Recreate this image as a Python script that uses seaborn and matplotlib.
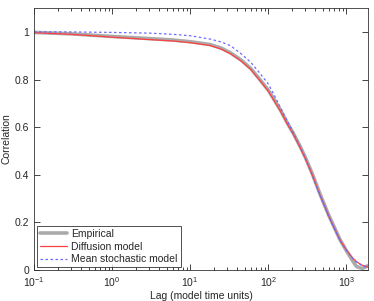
import numpy as np
import pandas as pd
import seaborn as sns
import matplotlib
matplotlib.use("Agg")
import matplotlib.pyplot as plt

# lag values (model time units)
lags = [0.1, 0.3, 1, 3, 6, 10, 18, 25, 33, 45, 60, 80, 100, 118, 145, 174,
        210, 259, 300, 361, 460, 600, 830, 1000, 1200, 1350, 1600, 1900]

empirical = [0.998, 0.992, 0.981, 0.972, 0.966, 0.959, 0.947, 0.932, 0.912,
             0.882, 0.846, 0.796, 0.756, 0.718, 0.669, 0.620, 0.574, 0.516,
             0.472, 0.410, 0.320, 0.228, 0.128, 0.082, 0.040, 0.015, 0.006,
             0.018]
diffusion = [0.997, 0.990, 0.978, 0.968, 0.962, 0.955, 0.943, 0.928, 0.908,
             0.878, 0.842, 0.792, 0.752, 0.714, 0.665, 0.616, 0.570, 0.512,
             0.468, 0.406, 0.316, 0.225, 0.126, 0.085, 0.052, 0.035, 0.020,
             0.012]
stochastic = [1.000, 1.000, 0.998, 0.995, 0.990, 0.984, 0.970, 0.958, 0.942,
              0.908, 0.872, 0.822, 0.782, 0.738, 0.680, 0.628, 0.578, 0.515,
              0.468, 0.404, 0.314, 0.222, 0.124, 0.083, 0.050, 0.034, 0.018,
              0.010]

series = ["Empirical", "Diffusion model", "Mean stochastic model"]

df = pd.concat([
    pd.DataFrame({"lag": lags, "corr": empirical, "series": series[0]}),
    pd.DataFrame({"lag": lags, "corr": diffusion, "series": series[1]}),
    pd.DataFrame({"lag": lags, "corr": stochastic, "series": series[2]}),
])

sns.set_style("ticks")
plt.rcParams["font.family"] = ["Liberation Sans", "DejaVu Sans"]
plt.rcParams["font.size"] = 7.5
plt.rcParams["xtick.direction"] = "in"
plt.rcParams["ytick.direction"] = "in"

fig = plt.figure(figsize=(3.74, 3.01), dpi=100)
ax = fig.add_axes([0.091, 0.103, 0.893, 0.870])

palette = {series[0]: "#aaaaaa", series[1]: "#ff4040", series[2]: "#6a6aff"}
sns.lineplot(data=df, x="lag", y="corr", hue="series", style="series",
             palette=palette, dashes={series[0]: "", series[1]: "", series[2]: (2, 2)},
             size="series", sizes={series[0]: 2.6, series[1]: 0.9, series[2]: 0.9},
             ax=ax)

ax.set_xscale("log")
ax.set_xlim(0.1, 1900)
ax.set_ylim(0, 1.1)
ax.set_yticks([0, 0.2, 0.4, 0.6, 0.8, 1])
ax.set_yticklabels(["0", "0.2", "0.4", "0.6", "0.8", "1"])
ax.tick_params(which="both", top=True, right=True, labelsize=7.5, width=0.6)
ax.tick_params(which="major", length=4)
ax.tick_params(which="minor", length=2)
for s in ax.spines.values():
    s.set_linewidth(0.6)
    s.set_color("#333333")

ax.set_xlabel("Lag (model time units)", fontsize=7.5, labelpad=2)
ax.set_ylabel("Correlation", fontsize=7.5, labelpad=2)

leg = ax.legend(loc="lower left", frameon=True, fancybox=False, fontsize=7.5,
                borderaxespad=0.25, handlelength=2.6, borderpad=0.3,
                labelspacing=0.25, handletextpad=0.4)
leg.get_frame().set_edgecolor("black")
leg.get_frame().set_linewidth(0.6)

fig.savefig("out.png", dpi=100)
